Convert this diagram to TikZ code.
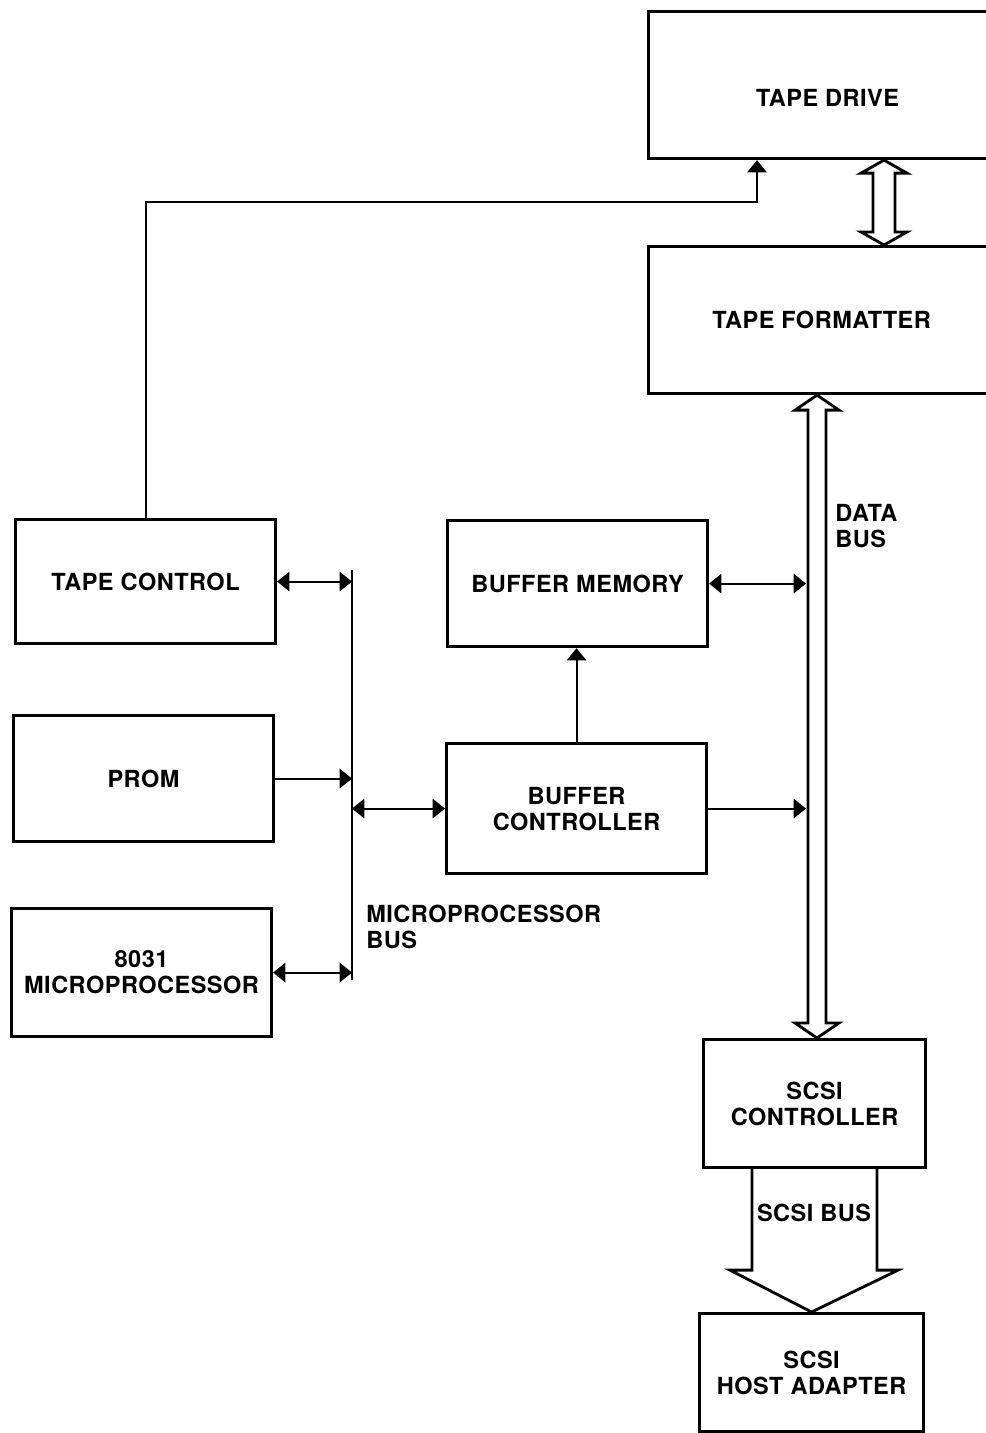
\documentclass[tikz,border=0pt]{standalone}
\usepackage{fontspec}
\setmainfont[LetterSpace=2]{TeX Gyre Heros}
\usetikzlibrary{positioning, calc, arrows.meta}

\tikzset{
    blk/.style={draw, line width=1.8pt, inner sep=0pt, anchor=north west, align=center,
        font=\bfseries\fontsize{13.4}{14.8}\selectfont},
    lbl/.style={inner sep=0pt, align=left, font=\bfseries\fontsize{13.4}{14.8}\selectfont},
    conn/.style={line width=1.2pt},
    fat/.style={line width=1.6pt, fill=white, line join=miter}
}

\begin{document}
\begin{tikzpicture}[x=0.02cm, y=-0.02cm, >={Triangle[length=7pt,width=11pt]}]
    \useasboundingbox (0,0) rectangle (985,1433);

    % Blocks
    \node[blk, minimum width=7.16cm, text height=1.9cm, text depth=1.04cm] (drive) at (647,10) {TAPE DRIVE};
    \node[blk, minimum width=6.92cm, minimum height=2.94cm] (fmt) at (647,245) {TAPE FORMATTER};
    \node[blk, minimum width=5.2cm, minimum height=2.48cm] (tc) at (14,518) {TAPE CONTROL};
    \node[blk, minimum width=5.2cm, minimum height=2.52cm] (prom) at (12,714) {PROM};
    \node[blk, minimum width=5.2cm, minimum height=2.56cm] (mp) at (10,907) {8031\\MICROPROCESSOR};
    \node[blk, minimum width=5.2cm, minimum height=2.52cm] (bm) at (446,519) {BUFFER MEMORY};
    \node[blk, minimum width=5.2cm, minimum height=2.6cm] (bc) at (445,742) {BUFFER\\CONTROLLER};
    \node[blk, minimum width=4.44cm, minimum height=2.56cm] (scsi) at (702,1038) {SCSI\\CONTROLLER};
    \node[blk, minimum width=4.48cm, minimum height=2.36cm] (host) at (698,1312) {SCSI\\HOST ADAPTER};

    % Microprocessor bus
    \coordinate (busT) at (352,570);
    \coordinate (busB) at (352,980);
    \draw[conn] (busT) -- (busB);
    \node[lbl, anchor=north west] (mbus) at (366,905) {MICROPROCESSOR\\BUS};

    \draw[conn, <->] (tc.east) -- (tc.east -| busT);
    \draw[conn, ->] (prom.east) -- (prom.east -| busT);
    \draw[conn, <->] (mp.east) -- (mp.east -| busT);
    \draw[conn, <->] (bc.west -| busT) -- (bc.west);
    \draw[conn, ->] (bc.north) -- (bc.north |- bm.south);

    % Tape control to drive
    \draw[conn, ->] (tc.north) |- ($(drive.south west)+(110,42)$) -- ($(drive.south west)+(110,0)$);

    % Data bus
    \coordinate (dbT) at ($(fmt.south west)+(170,0)$);
    \coordinate (dbB) at (dbT |- scsi.north);
    \draw[fat] (dbT) -- ++(22,15) -- ++(-13,0) -- ($(dbB)+(9,-15)$) -- ++(13,0) -- (dbB)
        -- ++(-22,-15) -- ++(13,0) -- ($(dbT)+(-9,15)$) -- ++(-13,0) -- cycle;
    \node[lbl, anchor=north west] (dbus) at (835,504) {DATA\\BUS};
    \coordinate (dbL) at ($(dbT)+(-11,0)$);
    \draw[conn, <->] (bm.east) -- (bm.east -| dbL);
    \draw[conn, ->] (bc.east) -- (bc.east -| dbL);

    % Drive <-> formatter
    \coordinate (dfT) at ($(drive.south west)+(237,0)$);
    \coordinate (dfB) at (dfT |- fmt.north);
    \draw[fat] (dfT) -- ++(23,13) -- ++(-12,0) -- ($(dfB)+(11,-13)$) -- ++(12,0) -- (dfB)
        -- ++(-23,-13) -- ++(12,0) -- ($(dfT)+(-11,13)$) -- ++(-12,0) -- cycle;

    % SCSI bus
    \draw[fat, fill=none] ($(scsi.south west)+(50,0)$) -- ++(0,101) -- ++(-22,0) -- (host.north)
        -- ($(scsi.south west)+(196,101)$) -- ++(-21,0) -- ++(0,-101);
    \node[lbl] (sbus) at (814,1213) {SCSI BUS};
\end{tikzpicture}
\end{document}
